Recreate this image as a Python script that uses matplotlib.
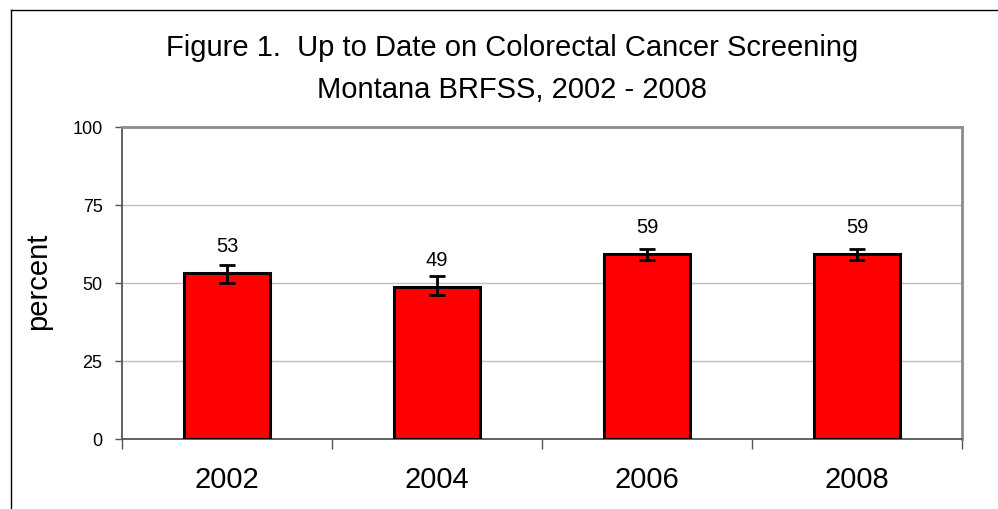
import numpy as np
import matplotlib
matplotlib.use('Agg')
import matplotlib.pyplot as plt
from matplotlib.lines import Line2D

plt.rcParams['font.family'] = ['Liberation Sans', 'DejaVu Sans']

years = ['2002', '2004', '2006', '2008']
percent = [53.1, 48.7, 59.2, 59.2]
ci_low = [50.0, 46.2, 57.4, 57.4]
ci_high = [55.8, 52.3, 61.0, 61.0]
labels = ['53', '49', '59', '59']

W, H = 998, 510
fig = plt.figure(figsize=(W / 100, H / 100), dpi=100)
ax = fig.add_axes([122 / W, 1 - 440 / H, (962 - 122) / W, (440 - 128) / H])

x = np.arange(len(years))
err = [np.array(percent) - np.array(ci_low), np.array(ci_high) - np.array(percent)]
ax.bar(x, percent, width=0.405, color='#ff0000', edgecolor='black', linewidth=2.2, zorder=3)
ax.errorbar(x, percent, yerr=err, fmt='none', ecolor='black', elinewidth=2,
            capsize=5.8, capthick=2, zorder=4)

for xi, p, lab in zip(x, percent, labels):
    ax.annotate(lab, (xi, p), xytext=(0, 20), textcoords='offset points',
                ha='center', va='center', fontsize=14.5)

ax.set_xlim(-0.5, 3.5)
ax.set_ylim(0, 100)
ax.set_yticks([0, 25, 50, 75, 100])
ax.yaxis.grid(True, color='#c0c0c0', linewidth=1)
ax.set_axisbelow(True)

# category boundaries carry the x ticks, labels sit in between
ax.set_xticks(np.arange(-0.5, 4, 1))
ax.set_xticklabels([])
ax.set_xticks(x, minor=True)
ax.set_xticklabels(years, minor=True, fontsize=21)
ax.tick_params(axis='x', which='major', length=7, width=1, color='#555555', direction='out')
ax.tick_params(axis='x', which='minor', length=0, pad=19)
ax.tick_params(axis='y', length=5, width=1, color='#555555', direction='out', labelsize=13, pad=9)

for s in ['left', 'bottom']:
    ax.spines[s].set_color('#555555')
    ax.spines[s].set_linewidth(1.3)
for s in ['top', 'right']:
    ax.spines[s].set_color('#8c8c8c')
    ax.spines[s].set_linewidth(2)

fig.text(38 / W, 1 - 281 / H, 'percent', rotation=90, ha='center', va='center', fontsize=21)

fig.text(512 / W, 1 - 48 / H, 'Figure 1.  Up to Date on Colorectal Cancer Screening',
         ha='center', va='center', fontsize=21)
fig.text(512 / W, 1 - 90 / H, 'Montana BRFSS, 2002 - 2008',
         ha='center', va='center', fontsize=21)

# outer chart border (runs off the right and bottom edges)
fig.add_artist(Line2D([10.5 / W, 1], [1 - 11 / H, 1 - 11 / H], color='black', linewidth=1,
                      transform=fig.transFigure))
fig.add_artist(Line2D([10.5 / W, 10.5 / W], [0, 1 - 11 / H], color='black', linewidth=1,
                      transform=fig.transFigure))

fig.savefig('out.png', dpi=100)
